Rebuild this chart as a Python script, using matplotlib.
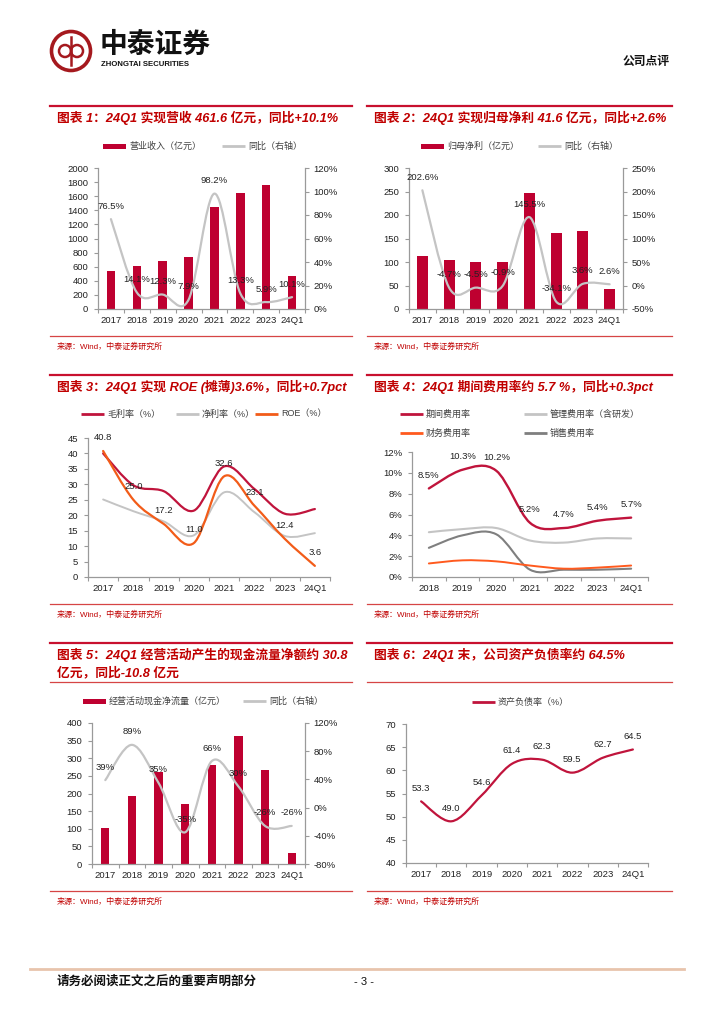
import numpy as np
import matplotlib
matplotlib.use("Agg")
import matplotlib.pyplot as plt
from matplotlib.path import Path
from matplotlib.patches import PathPatch, Rectangle, Circle
from matplotlib.ticker import FuncFormatter, MultipleLocator

plt.rcParams['font.family'] = ['Liberation Sans', 'Noto Sans CJK SC', 'DejaVu Sans']

# ---- data ----
years = ['2017', '2018', '2019', '2020', '2021', '2022', '2023', '24Q1']
revenue = [540, 605, 680, 735, 1450, 1650, 1760, 461.6]
revenue_yoy = [76.5, 14.1, 12.3, 7.9, 98.2, 13.3, 5.9, 10.1]
profit = [112, 105, 101, 101, 246, 162, 167, 41.6]
profit_yoy = [202.6, -4.7, -4.5, -0.9, 145.5, -34.1, 3.6, 2.6]
gross_margin = [40.0, 29.7, 27.8, 21.5, 35.8, 28.5, 20.5, 22.0]
net_margin = [25.1, 21.3, 18.0, 13.5, 27.4, 21.0, 13.3, 14.2]
roe = [40.8, 25.0, 17.2, 11.0, 32.6, 23.1, 12.4, 3.6]
fee_years = ['2018', '2019', '2020', '2021', '2022', '2023', '24Q1']
period_fee = [8.5, 10.3, 10.2, 5.2, 4.7, 5.4, 5.7]
admin_fee = [4.3, 4.6, 4.7, 3.5, 3.3, 3.7, 3.7]
fin_fee = [1.3, 1.6, 1.5, 1.1, 0.8, 0.9, 1.1]
sales_fee = [2.8, 4.0, 4.1, 0.7, 0.7, 0.7, 0.8]
cashflow = [103, 193, 260, 169, 280, 364, 268, 30.8]
cashflow_yoy = [39, 89, 35, -35, 66, 30, -26, -26]
debt_ratio = [53.3, 49.0, 54.6, 61.4, 62.3, 59.5, 62.7, 64.5]

BAR_RED = '#BE0030'
CRIMSON = '#C0143C'
ORANGE = '#F25C19'
LIGHT_GRAY = '#C4C4C4'
DARK_GRAY = '#7F7F7F'
AXIS_GRAY = '#9A9A9A'
TITLE_RED = '#C00000'
TXT = '#222222'

W, H = 724, 1024
fig = plt.figure(figsize=(W / 100, H / 100), dpi=100)
page = fig.add_axes([0, 0, 1, 1])
page.set_xlim(0, W)
page.set_ylim(H, 0)
page.axis('off')


def rect(x0, y0, x1, y1):
    return [x0 / W, 1 - y1 / H, (x1 - x0) / W, (y1 - y0) / H]


def smooth(ax, xs, ys, color, lw):
    # excel-like smoothed line drawn as bezier segments through the points
    xs = np.asarray(xs, float)
    ys = np.asarray(ys, float)
    n = len(xs)
    verts = [(xs[0], ys[0])]
    codes = [Path.MOVETO]
    for i in range(n - 1):
        a = max(i - 1, 0)
        d = min(i + 2, n - 1)
        c1 = (xs[i] + (xs[i + 1] - xs[a]) / 6, ys[i] + (ys[i + 1] - ys[a]) / 6)
        c2 = (xs[i + 1] - (xs[d] - xs[i]) / 6, ys[i + 1] - (ys[d] - ys[i]) / 6)
        verts += [c1, c2, (xs[i + 1], ys[i + 1])]
        codes += [Path.CURVE4] * 3
    ax.add_patch(PathPatch(Path(verts, codes), fill=False, edgecolor=color,
                           lw=lw, zorder=3, capstyle='round', joinstyle='round'))


def point_labels(ax, xs, ys, fmt):
    for xv, yv in zip(xs, ys):
        ax.annotate(fmt(yv), (xv, yv), xytext=(0, 9.4), textcoords='offset points',
                    ha='center', va='center', fontsize=6.8, color=TXT, zorder=5)


def cat_axis(ax, labels, ymin, ymax, step, fmt):
    n = len(labels)
    ax.set_xlim(-0.5, n - 0.5)
    ax.set_ylim(ymin, ymax)
    ax.set_xticks(range(n))
    ax.set_xticklabels(labels)
    ax.set_xticks(np.arange(-0.5, n), minor=True)
    ax.tick_params(axis='x', which='major', length=0, labelsize=6.8, pad=5, labelcolor=TXT)
    ax.tick_params(axis='x', which='minor', length=3, color=AXIS_GRAY, width=0.8)
    ax.yaxis.set_major_locator(MultipleLocator(step))
    ax.yaxis.set_major_formatter(FuncFormatter(fmt))
    ax.tick_params(axis='y', length=3, color=AXIS_GRAY, width=0.8, labelsize=6.8,
                   pad=4, labelcolor=TXT)
    ax.spines['top'].set_visible(False)
    ax.spines['right'].set_visible(False)
    for s in ('left', 'bottom'):
        ax.spines[s].set_color(AXIS_GRAY)
        ax.spines[s].set_linewidth(0.9)
    ax.patch.set_visible(False)


def right_axis(ax, ymin, ymax, step, fmt):
    t = ax.twinx()
    t.set_ylim(ymin, ymax)
    t.yaxis.set_major_locator(MultipleLocator(step))
    t.yaxis.set_major_formatter(FuncFormatter(fmt))
    t.tick_params(axis='y', length=3, color=AXIS_GRAY, width=0.8, labelsize=6.8,
                  pad=3, labelcolor=TXT)
    for s in ('top', 'left', 'bottom'):
        t.spines[s].set_visible(False)
    t.spines['right'].set_color(AXIS_GRAY)
    t.spines['right'].set_linewidth(0.9)
    return t


def pct0(v, pos):
    return f'{v:.0f}%'


def num0(v, pos):
    return f'{v:.0f}'


def legend_bar(x, y, label):
    page.add_patch(Rectangle((x, y - 2.5), 23, 5, color=BAR_RED, lw=0))
    page.text(x + 26, y, label, fontsize=6.5, color='#404040', va='center')


def legend_line(x, y, color, label, lw=2):
    page.plot([x, x + 23], [y, y], color=color, lw=lw, solid_capstyle='butt')
    page.text(x + 26, y, label, fontsize=6.5, color='#404040', va='center')


def frame(xr, top, titles, bottom, under=None):
    page.plot(xr, [top, top], color='#C8102E', lw=1.6)
    for k, t in enumerate(titles):
        page.text(xr[0] + 7, top + 12 + k * 18, t, fontsize=9.2, fontweight='bold',
                  style='italic', color=TITLE_RED, va='center')
    if under:
        page.plot(xr, [under, under], color='#D64545', lw=0.9)
    page.plot(xr, [bottom, bottom], color='#D64545', lw=0.9)
    page.text(xr[0] + 7, bottom + 10.5, '来源：Wind，中泰证券研究所', fontsize=5.8,
              color=TITLE_RED, va='center')


LX = (50, 352)
RX = (367, 672)

# ---- header / footer ----
page.add_patch(Circle((71, 51), 19.5, fill=False, ec='#A5191E', lw=2.6))
page.plot([71, 71], [37, 65], color='#A5191E', lw=1.8)
page.add_patch(Circle((65, 51), 6, fill=False, ec='#A5191E', lw=1.8))
page.add_patch(Circle((77, 51), 6, fill=False, ec='#A5191E', lw=1.8))
page.text(100, 45, '中泰证券', fontsize=20, fontweight='bold', color='#111111',
          va='center', family=['Noto Sans CJK SC'])
page.text(101, 64, 'ZHONGTAI SECURITIES', fontsize=5.6, fontweight='bold',
          color='#111111', va='center')
page.text(646, 62, '公司点评', fontsize=8.5, fontweight='bold', color='#111111',
          ha='center', va='center')
page.plot([30, 684], [969, 969], color='#E8C4AC', lw=2)
page.text(57, 982, '请务必阅读正文之后的重要声明部分', fontsize=9, fontweight='bold',
          color='#111111', va='center')
page.text(364, 982, '- 3 -', fontsize=8, color='#111111', ha='center', va='center')

# ---- frames ----
frame(LX, 106, ['图表 1：24Q1 实现营收 461.6 亿元，同比+10.1%'], 336)
frame(RX, 106, ['图表 2：24Q1 实现归母净利 41.6 亿元，同比+2.6%'], 336)
frame(LX, 375, ['图表 3：24Q1 实现 ROE (摊薄)3.6%，同比+0.7pct'], 604)
frame(RX, 375, ['图表 4：24Q1 期间费用率约 5.7 %，同比+0.3pct'], 604)
frame(LX, 643, ['图表 5：24Q1 经营活动产生的现金流量净额约 30.8', '亿元，同比-10.8 亿元'], 891, under=682)
frame(RX, 643, ['图表 6：24Q1 末，公司资产负债率约 64.5%'], 891, under=682)

x8 = np.arange(len(years))
x7 = np.arange(len(fee_years))

# ---- chart 1 ----
ax1 = fig.add_axes(rect(98, 168, 305, 309))
ax1.bar(x8, revenue, width=0.33, color=BAR_RED, zorder=2)
cat_axis(ax1, years, 0, 2000, 200, num0)
t1 = right_axis(ax1, 0, 120, 20, pct0)
smooth(t1, x8, revenue_yoy, LIGHT_GRAY, 1.6)
point_labels(t1, x8, revenue_yoy, lambda v: f'{v:.1f}%')
legend_bar(103, 146, '营业收入（亿元）')
legend_line(222, 146, LIGHT_GRAY, '同比（右轴）')

# ---- chart 2 ----
ax2 = fig.add_axes(rect(409, 168, 623, 309))
ax2.bar(x8, profit, width=0.41, color=BAR_RED, zorder=2)
cat_axis(ax2, years, 0, 300, 50, num0)
t2 = right_axis(ax2, -50, 250, 50, pct0)
smooth(t2, x8, profit_yoy, LIGHT_GRAY, 1.6)
point_labels(t2, x8, profit_yoy, lambda v: f'{v:.1f}%')
legend_bar(421, 146, '归母净利（亿元）')
legend_line(538, 146, LIGHT_GRAY, '同比（右轴）')

# ---- chart 3 ----
ax3 = fig.add_axes(rect(88, 438, 330, 577))
cat_axis(ax3, years, 0, 45, 5, num0)
smooth(ax3, x8, net_margin, LIGHT_GRAY, 1.4)
smooth(ax3, x8, gross_margin, CRIMSON, 1.6)
smooth(ax3, x8, roe, ORANGE, 1.6)
point_labels(ax3, x8, roe, lambda v: f'{v:.1f}')
legend_line(81, 414, CRIMSON, '毛利率（%）')
legend_line(176, 414, LIGHT_GRAY, '净利率（%）')
legend_line(255, 414, ORANGE, 'ROE（%）')

# ---- chart 4 ----
ax4 = fig.add_axes(rect(412, 452, 648, 577))
cat_axis(ax4, fee_years, 0, 12, 2, pct0)
smooth(ax4, x7, admin_fee, LIGHT_GRAY, 1.5)
smooth(ax4, x7, sales_fee, DARK_GRAY, 1.5)
smooth(ax4, x7, fin_fee, '#FF5A1E', 1.4)
smooth(ax4, x7, period_fee, CRIMSON, 1.7)
point_labels(ax4, x7, period_fee, lambda v: f'{v:.1f}%')
legend_line(400, 414, CRIMSON, '期间费用率')
legend_line(524, 414, LIGHT_GRAY, '管理费用率（含研发）')
legend_line(400, 433, '#FF5A1E', '财务费用率')
legend_line(524, 433, DARK_GRAY, '销售费用率')

# ---- chart 5 ----
ax5 = fig.add_axes(rect(92, 723, 305, 864))
ax5.bar(x8, cashflow, width=0.31, color=BAR_RED, zorder=2)
cat_axis(ax5, years, 0, 400, 50, num0)
t5 = right_axis(ax5, -80, 120, 40, pct0)
smooth(t5, x8, cashflow_yoy, LIGHT_GRAY, 1.6)
point_labels(t5, x8, cashflow_yoy, lambda v: f'{v:.0f}%')
legend_bar(83, 701, '经营活动现金净流量（亿元）')
legend_line(243, 701, LIGHT_GRAY, '同比（右轴）')

# ---- chart 6 ----
ax6 = fig.add_axes(rect(406, 724, 648, 863))
cat_axis(ax6, years, 40, 70, 5, num0)
smooth(ax6, x8, debt_ratio, CRIMSON, 1.6)
point_labels(ax6, x8, debt_ratio, lambda v: f'{v:.1f}')
legend_line(472, 702, CRIMSON, '资产负债率（%）')

fig.savefig('out.png', dpi=100)
